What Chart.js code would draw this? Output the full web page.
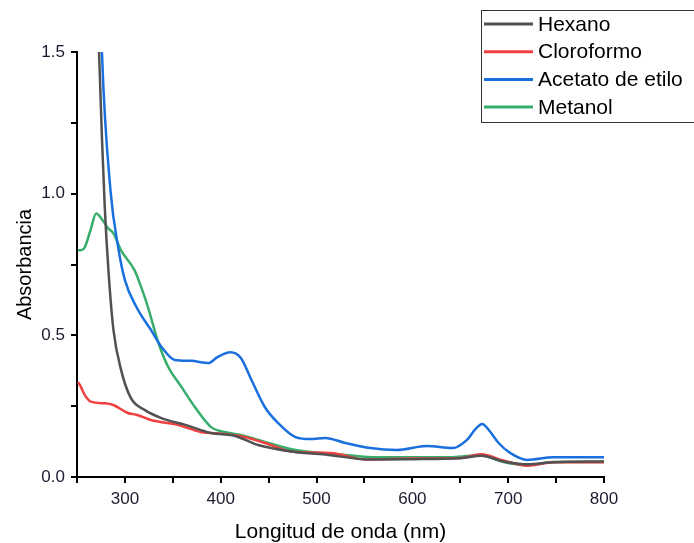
<!DOCTYPE html>
<html>
<head>
<meta charset="utf-8">
<script src="https://cdn.jsdelivr.net/npm/chart.js@4.4.1/dist/chart.umd.min.js"></script>
<style>
  html, body { margin: 0; padding: 0; background: #fff; }
  #wrap { position: relative; width: 694px; height: 543px; }
</style>
</head>
<body>
<div id="wrap"><canvas id="chart" width="694" height="543"></canvas></div>
<script>
// wavelengths (nm) and absorbance
const hexanoX = [270, 273, 276, 279, 283, 288, 296, 306, 321, 338, 363, 390, 415, 439, 478, 512, 554, 600, 650, 672, 695, 720, 747, 800];
const hexanoY = [1.9, 1.5, 1.2, 0.95, 0.72, 0.52, 0.378, 0.28, 0.236, 0.208, 0.184, 0.155, 0.145, 0.113, 0.088, 0.078, 0.062, 0.063, 0.066, 0.075, 0.055, 0.045, 0.052, 0.055];

const cloroformoX = [251, 253, 258, 265, 279, 288, 303, 313, 327, 355, 379, 404, 425, 446, 478, 515, 551, 600, 650, 672, 695, 720, 747, 800];
const cloroformoY = [0.335, 0.325, 0.29, 0.265, 0.26, 0.254, 0.226, 0.219, 0.201, 0.184, 0.159, 0.152, 0.141, 0.12, 0.088, 0.085, 0.062, 0.065, 0.067, 0.08, 0.058, 0.04, 0.052, 0.052];

const acetatoX = [273, 276, 285, 293, 300, 312, 327, 338, 352, 369, 387, 397, 410, 421, 432, 446, 460, 478, 494, 509, 530, 556, 584, 615, 642, 657, 666, 673, 680, 690, 702, 720, 747, 800];
const acetatoY = [1.9, 1.5, 1.01, 0.81, 0.695, 0.6, 0.52, 0.46, 0.413, 0.41, 0.402, 0.424, 0.44, 0.42, 0.343, 0.247, 0.19, 0.141, 0.134, 0.138, 0.12, 0.102, 0.095, 0.109, 0.102, 0.131, 0.17, 0.187, 0.165, 0.12, 0.085, 0.06, 0.07, 0.07];

const metanolX = [251, 253, 258, 264, 270, 276, 282, 288, 296, 310, 317, 324, 335, 345, 359, 373, 390, 404, 421, 446, 478, 530, 564, 590, 642, 670, 695, 720, 747, 800];
const metanolY = [0.8, 0.8, 0.81, 0.87, 0.93, 0.91, 0.88, 0.86, 0.8, 0.73, 0.67, 0.6, 0.473, 0.39, 0.318, 0.247, 0.176, 0.159, 0.148, 0.124, 0.095, 0.078, 0.07, 0.07, 0.07, 0.078, 0.053, 0.042, 0.053, 0.053];

const seriesNames = ['Hexano', 'Cloroformo', 'Acetato de etilo', 'Metanol'];
const seriesColors = ['#515151', '#F14040', '#1A6FDF', '#37AD6B'];

const xTickLabels = [300, 400, 500, 600, 700, 800];
const yTickLabels = [0.0, 0.5, 1.0, 1.5];

const FONT = '"Liberation Sans", Arial, sans-serif';

const toPoints = (xs, ys) => xs.map((x, i) => ({ x: x, y: ys[i] }));

const allSeries = [
  toPoints(hexanoX, hexanoY),
  toPoints(cloroformoX, cloroformoY),
  toPoints(acetatoX, acetatoY),
  toPoints(metanolX, metanolY),
];

// framed legend in the top right corner, like the original
const boxLegend = {
  id: 'boxLegend',
  afterDraw(chart) {
    const ctx = chart.ctx;
    const left = 481, top = 10, rowH = 27.7;
    ctx.save();
    ctx.strokeStyle = '#333';
    ctx.lineWidth = 1;
    ctx.strokeRect(left + 0.5, top + 0.5, 230, 112);
    ctx.font = '21px ' + FONT;
    ctx.textBaseline = 'middle';
    chart.data.datasets.forEach((ds, i) => {
      const y = top + 14 + i * rowH;
      ctx.strokeStyle = ds.borderColor;
      ctx.lineWidth = 3;
      ctx.beginPath();
      ctx.moveTo(left + 3, y);
      ctx.lineTo(left + 52, y);
      ctx.stroke();
      ctx.fillStyle = '#000';
      ctx.fillText(ds.label, left + 57, y + 1);
    });
    ctx.restore();
  }
};

new Chart(document.getElementById('chart'), {
  type: 'line',
  data: {
    datasets: allSeries.map((pts, i) => ({
      label: seriesNames[i],
      data: pts,
      borderColor: seriesColors[i],
      backgroundColor: seriesColors[i],
      borderWidth: 2.5,
      pointRadius: 0,
      tension: 0.35,
      cubicInterpolationMode: 'monotone',
    })),
  },
  options: {
    responsive: false,
    animation: false,
    layout: { padding: { top: 52, right: 90, left: 0, bottom: 0 } },
    plugins: {
      legend: { display: false },
      tooltip: { enabled: false },
    },
    scales: {
      x: {
        type: 'linear',
        min: 250,
        max: 800,
        afterFit: (s) => { s.height = 66; },
        afterBuildTicks: (s) => {
          const t = [];
          for (let v = 250; v <= 800; v += 50) t.push({ value: v });
          s.ticks = t;
        },
        ticks: {
          autoSkip: false,
          maxRotation: 0,
          padding: 6,
          color: '#1b1b2f',
          font: { family: FONT, size: 17 },
          callback: (v) => (xTickLabels.includes(v) ? String(v) : ''),
        },
        grid: { drawOnChartArea: false, drawTicks: true, tickLength: 6, color: '#000', lineWidth: 2 },
        border: { color: '#000', width: 2 },
        title: {
          display: true,
          text: 'Longitud de onda (nm)',
          color: '#000',
          font: { family: FONT, size: 21 },
          padding: { top: 0, bottom: -2 },
        },
      },
      y: {
        min: 0,
        max: 1.5,
        afterFit: (s) => { s.width = 77; },
        afterBuildTicks: (s) => {
          const t = [];
          for (let v = 0; v <= 1.5001; v += 0.25) t.push({ value: Math.round(v * 100) / 100 });
          s.ticks = t;
        },
        ticks: {
          autoSkip: false,
          padding: 6,
          color: '#1b1b2f',
          font: { family: FONT, size: 17 },
          callback: (v) => (yTickLabels.includes(v) ? v.toFixed(1) : ''),
        },
        grid: { drawOnChartArea: false, drawTicks: true, tickLength: 6, color: '#000', lineWidth: 2 },
        border: { color: '#000', width: 2 },
        title: {
          display: true,
          text: 'Absorbancia',
          color: '#000',
          font: { family: FONT, size: 20 },
          padding: { top: 13, bottom: 0 },
        },
      },
    },
  },
  plugins: [boxLegend],
});
</script>
</body>
</html>
